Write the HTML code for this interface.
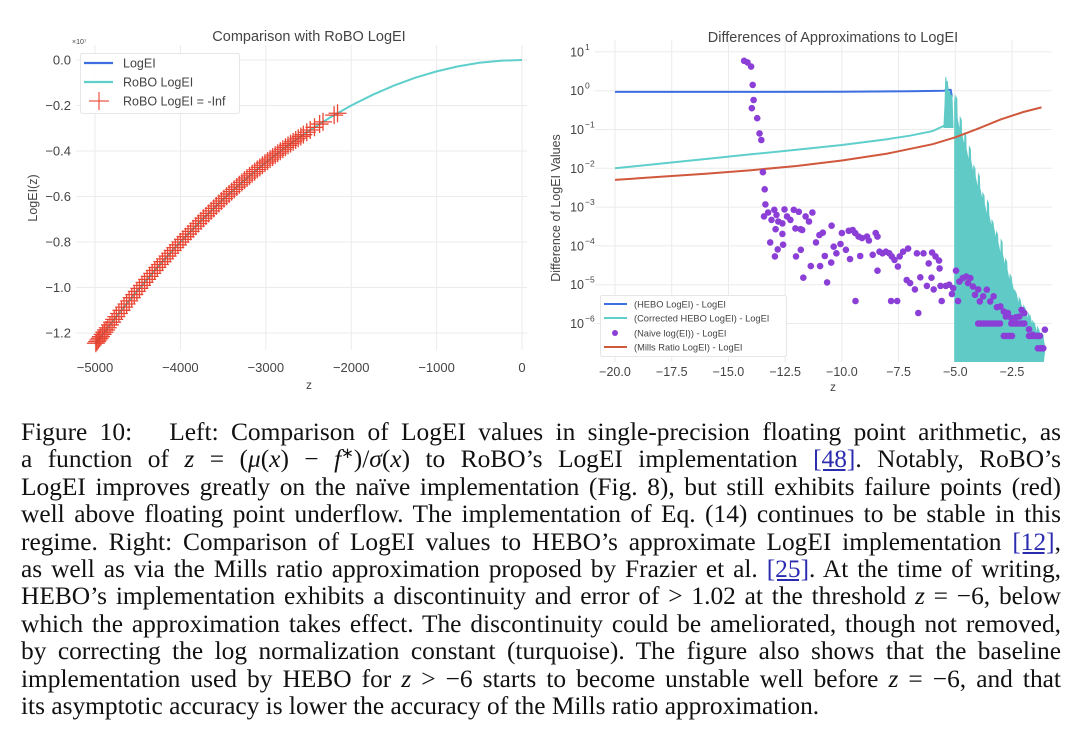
<!DOCTYPE html>
<html><head><meta charset="utf-8">
<style>
html,body{margin:0;padding:0;background:#fff;width:1080px;height:753px;overflow:hidden}
svg text{font-family:"Liberation Sans",sans-serif;fill:#444}
#cap{position:absolute;left:21px;top:419px;width:1040px;font-family:"Liberation Serif",serif;font-size:25.4px;line-height:27.4px;color:#111}
#cap div{height:27.4px;text-align:justify;text-align-last:justify;white-space:nowrap}
#cap div.last{text-align-last:left}
#cap a{color:#2b2bb0;text-decoration:underline}
.sup{font-size:15px;position:relative;top:-9px;line-height:0}
i{font-style:italic}
</style></head><body>
<svg id="chart" width="1080" height="410" style="position:absolute;left:0;top:0"></svg>
<div id="cap">
<div>Figure 10:&nbsp;&nbsp; Left: Comparison of LogEI values in single-precision floating point arithmetic, as</div>
<div>a function of <i>z</i> = (<i>μ</i>(<i>x</i>) − <i>f</i><span class="sup">∗</span>)/<i>σ</i>(<i>x</i>) to RoBO’s LogEI implementation <a>[48]</a>. Notably, RoBO’s</div>
<div>LogEI improves greatly on the naïve implementation (Fig. 8), but still exhibits failure points (red)</div>
<div>well above floating point underflow. The implementation of Eq. (14) continues to be stable in this</div>
<div>regime. Right: Comparison of LogEI values to HEBO’s approximate LogEI implementation <a>[12]</a>,</div>
<div>as well as via the Mills ratio approximation proposed by Frazier et al. <a>[25]</a>. At the time of writing,</div>
<div>HEBO’s implementation exhibits a discontinuity and error of &gt; 1.02 at the threshold <i>z</i> = −6, below</div>
<div>which the approximation takes effect. The discontinuity could be ameliorated, though not removed,</div>
<div>by correcting the log normalization constant (turquoise). The figure also shows that the baseline</div>
<div>implementation used by HEBO for <i>z</i> &gt; −6 starts to become unstable well before <i>z</i> = −6, and that</div>
<div class="last">its asymptotic accuracy is lower the accuracy of the Mills ratio approximation.</div>
</div>
<script>
// ---------- LEFT chart data ----------
const leftXTicks=[-5000,-4000,-3000,-2000,-1000,0];
const leftXTickLabels=["−5000","−4000","−3000","−2000","−1000","0"];
const leftYTicks=[0,-0.2,-0.4,-0.6,-0.8,-1.0,-1.2];
const leftYTickLabels=["0.0","−0.2","−0.4","−0.6","−0.8","−1.0","−1.2"];
const roboZ=[-5000,-4750,-4500,-4250,-4000,-3750,-3500,-3250,-3000,-2750,-2500,-2250,-2000,-1750,-1500,-1250,-1000,-750,-500,-250,0];
const roboVal=[-1.25,-1.128,-1.0125,-0.903,-0.8,-0.703,-0.6125,-0.528,-0.45,-0.378,-0.3125,-0.253,-0.2,-0.153,-0.1125,-0.078,-0.05,-0.028,-0.0125,-0.003,0];
const infZ=[-4990,-4975,-4960,-4945,-4930,-4910,-4890,-4870,-4850,-4825,-4800,-4775,-4750,-4720,-4690,-4660,-4630,-4600,-4570,-4540,-4510,-4480,-4450,-4420,-4390,-4360,-4330,-4300,-4270,-4240,-4210,-4180,-4150,-4120,-4090,-4060,-4030,-4000,-3970,-3940,-3910,-3880,-3850,-3820,-3790,-3760,-3730,-3700,-3670,-3640,-3610,-3580,-3550,-3520,-3490,-3460,-3430,-3400,-3370,-3340,-3310,-3280,-3250,-3220,-3190,-3160,-3130,-3100,-3070,-3040,-3010,-2980,-2950,-2920,-2890,-2860,-2830,-2800,-2770,-2740,-2710,-2680,-2650,-2620,-2590,-2560,-2520,-2480,-2430,-2370,-2330,-2200,-2160];
// ---------- RIGHT chart data ----------
const rightXTicks=[-20,-17.5,-15,-12.5,-10,-7.5,-5,-2.5];
const rightXTickLabels=["−20.0","−17.5","−15.0","−12.5","−10.0","−7.5","−5.0","−2.5"];
const rightYTicks=[1,0,-1,-2,-3,-4,-5,-6];
const heboZ=[-20,-15,-10,-7,-5.5,-5.3,-5.2,-5.15];
const heboLog=[-0.03,-0.03,-0.025,-0.015,0.0,0.02,0.02,-0.15];
const corrZ=[-20,-18,-16,-14,-12,-10,-8,-7,-6,-5.4];
const corrLog=[-2.0,-1.88,-1.76,-1.64,-1.52,-1.4,-1.25,-1.16,-1.04,-0.88];
const millsZ=[-20,-18,-16,-14,-12,-10,-8,-6,-5,-4,-3,-2,-1.2];
const millsLog=[-2.3,-2.22,-2.14,-2.05,-1.94,-1.8,-1.62,-1.38,-1.2,-0.98,-0.74,-0.55,-0.43];
const spikeZ=[-5.5,-5.45,-5.42,-5.38,-5.35,-5.3,-5.25,-5.2,-5.15,-5.1];
const spikeLog=[-0.95,-0.3,0.35,0.1,0.25,-0.1,0.0,-0.2,-0.1,-0.9];
const fillZ=[-5.05,-5.0,-4.9,-4.8,-4.7,-4.6,-4.5,-4.4,-4.3,-4.2,-4.1,-4.0,-3.9,-3.8,-3.7,-3.6,-3.5,-3.4,-3.3,-3.2,-3.1,-3.0,-2.9,-2.8,-2.7,-2.6,-2.5,-2.4,-2.3,-2.2,-2.1,-2.0,-1.9,-1.8,-1.7,-1.6,-1.5,-1.4,-1.3,-1.2,-1.1];
const fillLog=[-0.05,-0.1,-0.7,-0.65,-1.1,-1.05,-1.5,-1.4,-1.8,-1.9,-2.2,-2.1,-2.5,-2.6,-2.9,-2.8,-3.2,-3.3,-3.5,-3.6,-3.9,-3.8,-4.2,-4.3,-4.6,-4.7,-4.9,-5.1,-5.2,-5.3,-5.45,-5.5,-5.6,-5.7,-5.75,-5.9,-5.95,-6.05,-6.15,-6.2,-6.4];
const naiveZ=[-14.31,-14.16,-14.0,-13.93,-13.89,-13.97,-13.73,-13.63,-13.55,-13.48,-13.4,-13.37,-13.43,-13.25,-13.10,-12.98,-12.88,-12.80,-12.62,-12.53,-12.42,-12.27,-12.12,-12.05,-11.90,-11.75,-11.60,-11.45,-11.30,-12.92,-12.62,-11.82,-13.16,-12.59,-12.83,-12.95,-12.02,-11.81,-11.37,-10.96,-11.70,-10.65,-11.14,-10.99,-10.84,-10.45,-10.36,-10.24,-10.47,-10.0,-9.82,-9.64,-9.52,-9.41,-9.26,-9.11,-8.89,-8.81,-8.51,-8.43,-8.64,-8.43,-8.34,-8.21,-8.06,-7.91,-7.80,-7.68,-7.53,-7.45,-7.30,-7.08,-7.14,-6.99,-6.78,-6.69,-6.54,-6.40,-6.17,-6.05,-6.02,-5.87,-5.72,-5.69,-6.25,-5.95,-5.65,-5.42,-5.27,-5.09,-4.97,-4.82,-4.67,-4.52,-4.44,-4.34,-4.22,-4.13,-3.99,-3.92,-3.77,-3.61,-3.46,-3.31,-3.16,-3.01,-2.86,-2.77,-2.68,-2.53,-2.33,-2.18,-2.08,-1.96,-1.75,-1.58,-1.36,-1.20,-1.05,-9.40,-7.83,-7.56,-6.63,-5.60,-5.15,-4.88,-9.19,-10.06,-9.70,-10.75,
-3.99,-3.87,-3.75,-3.63,-3.51,-3.39,-3.27,-3.15,-3.03,-2.53,-2.41,-2.29,-2.17,-2.05,-1.96,-2.86,-2.74,-2.62,-2.50,-1.75,-1.63,-1.51,-1.39,-1.27,-1.36,-1.24,-1.12];
const naiveLog=[0.77,0.73,0.62,0.15,-0.24,-0.45,-0.71,-1.1,-1.27,-2.1,-2.54,-2.93,-3.24,-3.14,-3.33,-3.07,-3.20,-3.37,-3.42,-3.06,-3.24,-3.33,-3.07,-3.55,-3.12,-3.59,-3.24,-3.37,-3.14,-3.57,-3.69,-3.57,-3.91,-3.97,-4.09,-4.27,-4.27,-4.10,-4.52,-4.52,-4.82,-4.94,-3.91,-3.72,-3.66,-3.48,-4.02,-4.19,-4.43,-3.67,-4.10,-4.34,-3.59,-3.67,-3.76,-3.80,-3.76,-3.86,-3.67,-3.76,-4.23,-4.64,-4.15,-4.19,-4.15,-4.19,-4.27,-4.36,-4.53,-4.27,-4.15,-4.07,-4.88,-4.96,-5.12,-4.19,-4.81,-4.19,-4.45,-4.82,-4.17,-4.27,-4.38,-4.58,-5.03,-5.12,-5.03,-5.03,-5.0,-5.09,-4.64,-4.92,-4.83,-4.79,-4.96,-4.83,-5.05,-5.26,-5.12,-5.43,-5.30,-5.13,-5.43,-5.30,-5.58,-5.56,-5.69,-5.82,-5.73,-5.86,-5.84,-5.82,-5.65,-5.73,-6.15,-6.29,-6.32,-6.64,-6.16,-5.42,-5.42,-5.42,-5.73,-5.42,-5.24,-5.42,-4.26,-3.95,-3.61,-4.26,
-6.0,-6.0,-6.0,-6.0,-6.0,-6.0,-6.0,-6.0,-6.0,-6.0,-6.0,-6.0,-6.0,-6.0,-6.0,-6.32,-6.32,-6.32,-6.32,-6.32,-6.32,-6.32,-6.32,-6.32,-6.64,-6.64,-6.64];

const NS="http://www.w3.org/2000/svg";
const svg=document.getElementById('chart');
function mk(tag,attrs,parent){const e=document.createElementNS(NS,tag);for(const k in attrs)e.setAttribute(k,attrs[k]);(parent||svg).appendChild(e);return e;}
function txt(s,attrs,parent){const t=mk('text',attrs,parent);t.textContent=s;return t;}

// ===== LEFT =====
const lx=v=>95+(v+5000)*(427/5000);
const ly=v=>60-v*227.5;
const gL=mk('g',{});


leftXTicks.forEach((t,i)=>{
  const l=mk('line',{x1:lx(t),x2:lx(t),y1:45,y2:350,stroke:'#ebebeb','stroke-width':1},gL);
  
  
  const tt=txt(leftXTickLabels[i],{x:lx(t),y:372,'text-anchor':'middle','font-size':13},gL);
  
  
});
leftYTicks.forEach((t,i)=>{
  const l=mk('line',{x1:76,x2:527,y1:ly(t),y2:ly(t),stroke:'#ebebeb','stroke-width':1},gL);
  
  
  const tt=txt(leftYTickLabels[i],{x:71,y:ly(t)+4.5,'text-anchor':'end','font-size':13},gL);
  
  
});
const ex=txt('×10⁷',{x:72,y:44,'font-size':7},gL);


const lt=txt('Comparison with RoBO LogEI',{x:309,y:41,'text-anchor':'middle','font-size':14.5},gL);


const lxt=txt('z',{x:309,y:389,'text-anchor':'middle','font-size':12},gL);


const lyt=txt('LogEI(z)',{x:0,y:0,'text-anchor':'middle','font-size':12.5,transform:'translate(37,198) rotate(-90)'},gL);


const roboPath=mk('path',{d:roboZ.map((z,i)=>(i?'L':'M')+lx(z).toFixed(1)+','+ly(roboVal[i]).toFixed(1)).join(''),fill:'none',stroke:'#5fcfcc','stroke-width':2},gL);


function interpRobo(z){for(let i=1;i<roboZ.length;i++){if(z<=roboZ[i]){const f=(z-roboZ[i-1])/(roboZ[i]-roboZ[i-1]);return roboVal[i-1]+f*(roboVal[i]-roboVal[i-1]);}}return 0;}
const gInf=mk('g',{stroke:'#e8321f','stroke-width':1.3,opacity:0.9},gL);


infZ.forEach(z=>{
  const x=lx(z),y=ly(interpRobo(z));
  const p=mk('path',{d:`M${x-9},${y}H${x+9}M${x},${y-9}V${y+9}`},gInf);
  
  
});
// left legend
const lg=mk('g',{},gL);


mk('rect',{x:80.5,y:53.5,width:159,height:60,rx:2,fill:'#fff','fill-opacity':0.9,stroke:'#e6e6e6'},lg);
mk('line',{x1:84,x2:113,y1:63,y2:63,stroke:'#3e6fe0','stroke-width':2.2},lg);
mk('line',{x1:84,x2:113,y1:82,y2:82,stroke:'#5fcfcc','stroke-width':2.2},lg);
mk('path',{d:'M89,101H109M99,92V110',stroke:'#e8321f','stroke-width':1},lg);
[['LogEI',67.5],['RoBO LogEI',86.5],['RoBO LogEI = -Inf',105.5]].forEach(([s,y])=>{
  const e=txt(s,{x:123,y:y,'font-size':12.5},lg);
  
  
});

// ===== RIGHT =====
const rx=v=>615+(v+20)*(397/17.5);
const ry=lg10=>90.7-lg10*38.8;
const yBottom=362;
const gR=mk('g',{});


rightXTicks.forEach((t,i)=>{
  const l=mk('line',{x1:rx(t),x2:rx(t),y1:40,y2:362,stroke:'#ebebeb','stroke-width':1},gR);
  
  
  const tt=txt(rightXTickLabels[i],{x:rx(t),y:376,'text-anchor':'middle','font-size':12.5},gR);
  
  
});
rightYTicks.forEach(t=>{
  const l=mk('line',{x1:595,x2:1052,y1:ry(t),y2:ry(t),stroke:'#ebebeb','stroke-width':1},gR);
  
  
  const tt=txt('10',{x:584,y:ry(t)+4.5,'text-anchor':'end','font-size':12.5},gR);
  
  
  const sup=txt(t>0?String(t):(t===0?'0':'−'+(-t)),{x:585,y:ry(t)-2,'font-size':8.5},gR);
  
  
});
const rt=txt('Differences of Approximations to LogEI',{x:833,y:42,'text-anchor':'middle','font-size':14.5},gR);


const rxt=txt('z',{x:833,y:391,'text-anchor':'middle','font-size':12},gR);


const ryt=txt('Difference of LogEI Values',{x:0,y:0,'text-anchor':'middle','font-size':12.5,transform:'translate(560,208) rotate(-90)'},gR);


function poly(zs,ls){return zs.map((z,i)=>(i?'L':'M')+rx(z).toFixed(1)+','+ry(ls[i]).toFixed(1)).join('');}
const heboP=mk('path',{d:poly(heboZ,heboLog),fill:'none',stroke:'#3e6fe0','stroke-width':2},gR);


const corrP=mk('path',{d:poly(corrZ,corrLog),fill:'none',stroke:'#5fcfcc','stroke-width':2},gR);


const sp=mk('path',{d:poly(spikeZ,spikeLog)+'L'+rx(spikeZ[spikeZ.length-1]).toFixed(1)+','+ry(-0.95)+'L'+rx(spikeZ[0]).toFixed(1)+','+ry(-0.95)+'Z',fill:'#5fcac6',stroke:'#5fcac6','stroke-width':1},gR);


let fd='M'+rx(fillZ[0]).toFixed(1)+','+yBottom;
fillZ.forEach((z,i)=>{const x=rx(z),y=ry(fillLog[i]);const x2=i<fillZ.length-1?rx(fillZ[i+1]):x+2;fd+=`L${x.toFixed(1)},${y.toFixed(1)}L${(x2-0.3).toFixed(1)},${(y+(i%2?4:10)).toFixed(1)}`;});
fd+='L'+rx(fillZ[fillZ.length-1]).toFixed(1)+','+yBottom+'Z';
const fp=mk('path',{d:fd,fill:'#5fcac6',stroke:'none'},gR);


const millsP=mk('path',{d:poly(millsZ,millsLog),fill:'none',stroke:'#d0583c','stroke-width':2},gR);


const gN=mk('g',{fill:'#8b3fd6'},gR);


naiveZ.forEach((z,i)=>{
  const c=mk('circle',{cx:rx(z).toFixed(1),cy:ry(naiveLog[i]).toFixed(1),r:3.3},gN);
  
  
});
const rg=mk('g',{},gR);


mk('rect',{x:600.5,y:295.5,width:186,height:61,rx:2,fill:'#fff','fill-opacity':0.9,stroke:'#e6e6e6'},rg);
mk('line',{x1:604,x2:627,y1:304,y2:304,stroke:'#3e6fe0','stroke-width':2},rg);
mk('line',{x1:604,x2:627,y1:318,y2:318,stroke:'#5fcfcc','stroke-width':2},rg);
mk('circle',{cx:615,cy:333,r:3,fill:'#8b3fd6'},rg);
mk('line',{x1:604,x2:627,y1:347,y2:347,stroke:'#d0583c','stroke-width':2},rg);
[['(HEBO LogEI) - LogEI',307.5],['(Corrected HEBO LogEI) - LogEI',321.5],['(Naive log(EI)) - LogEI',336.5],['(Mills Ratio LogEI) - LogEI',350.5]].forEach(([s,y])=>{
  const e=txt(s,{x:634,y:y,'font-size':9.3},rg);
  
  
});
</script>
</body></html>
